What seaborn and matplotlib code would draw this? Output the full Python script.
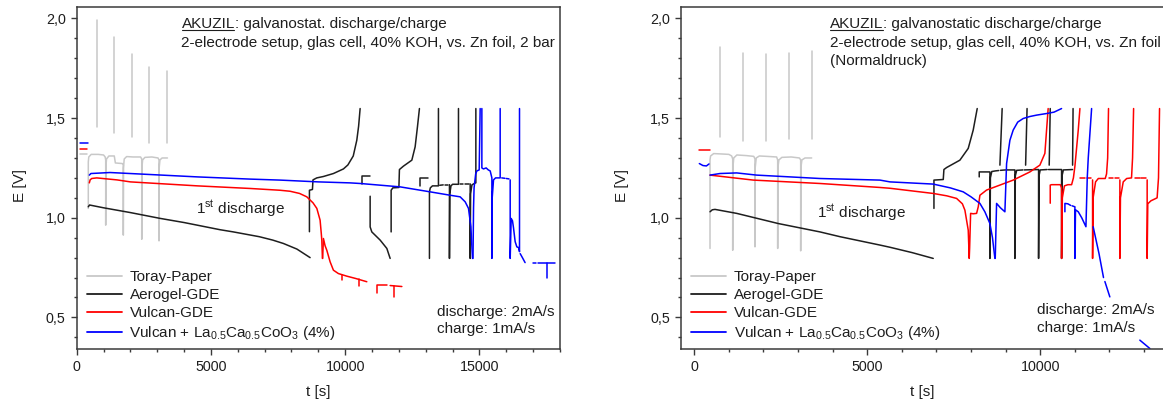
import matplotlib
matplotlib.use("Agg")
import matplotlib.pyplot as plt
import pandas as pd
import seaborn as sns
from matplotlib.lines import Line2D
from matplotlib.ticker import MultipleLocator, FuncFormatter

# ---------------- data (t [s], E [V]) ----------------
series_names = ["Toray-Paper", "Aerogel-GDE", "Vulcan-GDE",
                "Vulcan + La$_{0.5}$Ca$_{0.5}$CoO$_3$ (4%)"]
series_colors = ["#c8c8c8", "#1e1e1e", "#ff0000", "#0000ff"]

# ----- left panel (2 bar) -----
left_toray = [
    [(125, 1.318), (370, 1.318)],
    [(432, 1.047), (432, 1.28), (450, 1.305), (540, 1.318), (800, 1.318), (1000, 1.315), (1060, 1.305),
     (1080, 1.29), (1080, 0.963), (1085, 1.25), (1110, 1.295), (1200, 1.31), (1400, 1.31), (1440, 1.275),
     (1700, 1.272), (1736, 1.265), (1736, 0.913), (1742, 1.25), (1770, 1.295), (1860, 1.307), (2100, 1.305),
     (2380, 1.305), (2422, 1.295), (2422, 0.892), (2428, 1.25), (2455, 1.29), (2540, 1.303), (2800, 1.305),
     (3030, 1.30), (3066, 1.29), (3066, 0.884), (3072, 1.25), (3100, 1.29), (3180, 1.30), (3380, 1.30)],
    [(745, 1.456), (745, 1.991)],
    [(1390, 1.426), (1390, 1.905)],
    [(2049, 1.403), (2049, 1.821)],
    [(2705, 1.373), (2705, 1.757)],
    [(3376, 1.373), (3376, 1.737)],
]
left_aerogel = [
    [(430, 1.055), (480, 1.064), (1000, 1.05), (2000, 1.026), (3100, 0.997), (4000, 0.976), (5340, 0.94),
     (5835, 0.929), (6800, 0.905), (7300, 0.888), (7698, 0.871), (8200, 0.843), (8693, 0.80)],
    [(8668, 0.93), (8668, 1.138), (8780, 1.142), (8800, 1.19), (8941, 1.20), (9188, 1.207), (9562, 1.222),
     (9934, 1.245), (10100, 1.265), (10300, 1.31), (10432, 1.389), (10500, 1.46), (10556, 1.548)],
    [(10619, 1.168), (10619, 1.21), (10929, 1.21)],
    [(10929, 1.108), (10929, 0.954), (10991, 0.929), (11301, 0.888), (11551, 0.846), (11674, 0.796)],
    [(11711, 0.929), (11711, 1.138), (11774, 1.15), (12000, 1.152), (12020, 1.242), (12169, 1.259),
     (12482, 1.289), (12605, 1.356), (12691, 1.456), (12765, 1.548)],
    [(12790, 1.159), (12790, 1.197), (13100, 1.197)],
    [(13138, 0.796), (13138, 1.13), (13170, 1.15), (13250, 1.16), (13473, 1.16), (13473, 1.548)],
    [(13520, 1.163), (13650, 1.165)],
    [(13700, 1.166), (13830, 1.166)],
    [(13883, 1.166), (13883, 0.796), (13895, 1.12), (13940, 1.16), (14000, 1.168), (14219, 1.168),
     (14219, 1.548)],
    [(14270, 1.17), (14400, 1.17)],
    [(14450, 1.17), (14600, 1.17)],
    [(14655, 1.17), (14655, 0.796), (14670, 1.12), (14720, 1.165), (14850, 1.175), (14866, 1.175),
     (14866, 1.548)],
]
left_vulcan = [
    [(125, 1.344), (370, 1.344)],
    [(470, 1.175), (500, 1.19), (559, 1.197), (745, 1.20), (1500, 1.19), (2000, 1.18), (3000, 1.172),
     (4500, 1.16), (6457, 1.147), (7575, 1.138), (7948, 1.133), (8300, 1.122), (8570, 1.105), (8800, 1.075),
     (8943, 1.047), (9065, 0.988), (9110, 0.92), (9129, 0.888), (9152, 0.796)],
    [(9160, 0.796), (9189, 0.896), (9250, 0.86), (9315, 0.837), (9438, 0.779), (9561, 0.737), (9747, 0.72),
     (10060, 0.707), (10400, 0.695), (10805, 0.679)],
    [(9874, 0.712), (9874, 0.687)],
    [(10519, 0.695), (10519, 0.657)],
    [(11178, 0.620), (11178, 0.662), (11551, 0.662)],
    [(11674, 0.66), (12110, 0.655)],
    [(11834, 0.657), (11834, 0.603)],
]
left_lacaco = [
    [(125, 1.376), (432, 1.376)],
    [(470, 1.214), (530, 1.222), (1241, 1.227), (2731, 1.217), (4500, 1.205), (6457, 1.194), (7575, 1.189),
     (9000, 1.18), (10183, 1.175), (10556, 1.172), (12046, 1.155), (13164, 1.13), (13909, 1.113),
     (14281, 1.105), (14468, 1.08), (14592, 1.047), (14681, 0.955), (14741, 0.796)],
    [(14760, 0.796), (14780, 1.05), (14800, 1.15), (14860, 1.22), (14903, 1.235), (14990, 1.24),
     (15027, 1.548)],
    [(15090, 1.548), (15090, 1.25), (15150, 1.245), (15250, 1.25), (15330, 1.24), (15400, 1.235),
     (15463, 1.2), (15463, 0.796), (15475, 1.1), (15524, 1.19), (15600, 1.2), (15772, 1.2), (15772, 1.548)],
    [(15830, 1.2), (15950, 1.198)],
    [(16000, 1.197), (16100, 1.195)],
    [(16145, 1.19), (16145, 0.796), (16182, 0.9965), (16230, 0.985), (16268, 0.95), (16330, 0.88),
     (16393, 0.854), (16460, 0.85), (16492, 0.83), (16492, 1.548)],
    [(16517, 0.82), (16600, 0.80), (16700, 0.775)],
    [(16983, 0.773), (17121, 0.773)],
    [(17190, 0.773), (17810, 0.773)],
    [(17500, 0.773), (17500, 0.70)],
]

# ----- right panel (Normaldruck) -----
right_toray = [
    [(454, 0.846), (454, 1.29), (470, 1.31), (560, 1.322), (800, 1.32), (1000, 1.318), (1080, 1.31),
     (1110, 1.295), (1110, 0.837), (1115, 1.25), (1140, 1.30), (1230, 1.315), (1500, 1.312), (1720, 1.308),
     (1754, 1.295), (1754, 0.854), (1760, 1.25), (1790, 1.30), (1880, 1.31), (2100, 1.308), (2380, 1.305),
     (2410, 1.29), (2410, 0.846), (2416, 1.25), (2445, 1.29), (2530, 1.303), (2800, 1.305), (3040, 1.30),
     (3075, 1.29), (3075, 0.834), (3081, 1.25), (3110, 1.29), (3200, 1.30), (3393, 1.30)],
    [(741, 1.406), (741, 1.858)],
    [(1397, 1.386), (1397, 1.828)],
    [(2062, 1.386), (2062, 1.821)],
    [(2735, 1.393), (2735, 1.828)],
    [(3393, 1.393), (3393, 1.838)],
]
right_aerogel = [
    [(454, 1.03), (520, 1.04), (598, 1.042), (1225, 1.022), (2428, 0.971), (3633, 0.929), (4212, 0.905),
     (5367, 0.863), (5656, 0.852), (6300, 0.825), (6907, 0.796)],
    [(6928, 1.047), (6928, 1.189), (7197, 1.192), (7216, 1.242), (7294, 1.252), (7678, 1.289),
     (7919, 1.348), (8063, 1.44), (8179, 1.548)],
    [(8237, 1.205), (8237, 1.23), (8546, 1.23), (8546, 0.796), (8560, 1.20), (8600, 1.232), (8700, 1.235),
     (8800, 1.237)],
    [(8850, 1.238), (9000, 1.24)],
    [(9040, 1.24), (9268, 1.24), (9268, 0.796), (9280, 1.21), (9320, 1.238), (9500, 1.24)],
    [(9540, 1.24), (9953, 1.242), (9953, 0.796), (9965, 1.21), (10000, 1.24), (10200, 1.242)],
    [(10240, 1.242), (10618, 1.242), (10618, 0.796), (10630, 1.21), (10670, 1.24), (10936, 1.242)],
    [(8835, 1.264), (8900, 1.548)],
    [(9578, 1.264), (9620, 1.548)],
    [(10260, 1.264), (10290, 1.548)],
    [(10936, 1.264), (10950, 1.548)],
]
right_vulcan = [
    [(145, 1.339), (454, 1.339)],
    [(454, 1.214), (1706, 1.189), (3633, 1.172), (5367, 1.152), (5656, 1.148), (6907, 1.122), (7300, 1.11),
     (7583, 1.097), (7750, 1.07), (7823, 1.038), (7919, 0.938), (7948, 0.796), (7960, 0.85), (7988, 1.022),
     (8063, 1.02), (8161, 1.022), (8209, 1.055), (8257, 1.113), (8450, 1.139), (8835, 1.164), (9219, 1.189),
     (9701, 1.23), (9990, 1.264), (10135, 1.323), (10184, 1.44), (10230, 1.548)],
    [(10290, 1.073), (10290, 1.164), (10330, 1.166), (10580, 1.166), (10618, 1.15), (10618, 0.796),
     (10640, 1.1), (10700, 1.16), (10800, 1.166), (10908, 1.166), (10960, 1.2), (11004, 1.26), (11100, 1.44),
     (11148, 1.548)],
    [(11160, 1.197), (11300, 1.197)],
    [(11350, 1.197), (11480, 1.197)],
    [(11514, 1.19), (11514, 0.796), (11530, 1.1), (11600, 1.18), (11680, 1.197), (11880, 1.197),
     (11918, 1.22), (11950, 1.3), (11975, 1.548)],
    [(11990, 1.197), (12100, 1.197)],
    [(12150, 1.197), (12280, 1.197)],
    [(12303, 1.19), (12303, 0.796), (12320, 1.1), (12400, 1.18), (12500, 1.197), (12640, 1.2),
     (12670, 1.3), (12700, 1.548)],
    [(12740, 1.197), (12880, 1.197)],
    [(12920, 1.197), (13060, 1.197)],
    [(13092, 1.19), (13092, 0.796), (13110, 1.07), (13200, 1.085), (13380, 1.10), (13420, 1.2),
     (13450, 1.548)],
]
right_lacaco = [
    [(145, 1.272), (250, 1.262), (350, 1.26), (425, 1.27)],
    [(454, 1.214), (743, 1.222), (1225, 1.225), (1803, 1.214), (3633, 1.197), (5367, 1.189), (5656, 1.18),
     (6907, 1.169), (7400, 1.15), (7774, 1.13), (8000, 1.105), (8257, 1.072), (8400, 1.03), (8546, 0.971),
     (8620, 0.9), (8690, 0.796)],
    [(8700, 0.796), (8739, 1.072), (8850, 1.05), (8979, 1.03), (9028, 1.272), (9124, 1.389), (9219, 1.44),
     (9350, 1.48), (9508, 1.498), (9700, 1.508), (9895, 1.515), (10184, 1.523), (10400, 1.53),
     (10618, 1.548)],
    [(10714, 1.03), (10714, 1.072), (10800, 1.07), (10880, 1.062)],
    [(10920, 1.06), (11003, 1.055), (11003, 0.796), (11020, 1.04), (11100, 1.03), (11200, 1.0),
     (11322, 0.955), (11360, 1.2), (11389, 1.3), (11486, 1.548)],
    [(11531, 0.955), (11700, 0.82), (11830, 0.70)],
    [(11870, 0.68), (12013, 0.603)],
    [(12880, 0.386), (13170, 0.344)],
]

left_series = [left_toray, left_aerogel, left_vulcan, left_lacaco]
right_series = [right_toray, right_aerogel, right_vulcan, right_lacaco]


def to_frame(all_series):
    rows = []
    for name, segs in zip(series_names, all_series):
        for i, seg in enumerate(segs):
            for t, e in seg:
                rows.append({"series": name, "seg": f"{name}|{i}", "t": t, "E": e})
    return pd.DataFrame(rows)


# ---------------- style ----------------
sns.set_style("ticks")
plt.rcParams["font.family"] = ["Liberation Sans", "DejaVu Sans"]
plt.rcParams["mathtext.fontset"] = "custom"
plt.rcParams["mathtext.rm"] = "Liberation Sans"
plt.rcParams["mathtext.it"] = "Liberation Sans:italic"
plt.rcParams["mathtext.default"] = "regular"

TXT = "#1e1e1e"
SPINE = "#3a3a3a"

fig = plt.figure(figsize=(11.63, 4.03), dpi=100)
axL = fig.add_axes([0.06595, 0.13325, 0.41556, 0.84814])
axR = fig.add_axes([0.58555, 0.13325, 0.41445, 0.84814])

palette = dict(zip(series_names, series_colors))

for ax, data, xlim in [(axL, left_series, (0, 18000)), (axR, right_series, (-385, 13550))]:
    df = to_frame(data)
    sns.lineplot(data=df, x="t", y="E", hue="series", hue_order=series_names, units="seg",
                 estimator=None, sort=False, palette=palette, linewidth=1.1, legend=False, ax=ax)
    ax.set_xlim(*xlim)
    ax.set_ylim(0.34, 2.055)
    ax.xaxis.set_major_locator(MultipleLocator(5000))
    ax.xaxis.set_minor_locator(MultipleLocator(1000))
    ax.yaxis.set_major_locator(MultipleLocator(0.5))
    ax.yaxis.set_minor_locator(MultipleLocator(0.1))
    ax.yaxis.set_major_formatter(FuncFormatter(lambda v, p: f"{v:.1f}".replace(".", ",")))
    ax.xaxis.set_major_formatter(FuncFormatter(lambda v, p: f"{int(round(v))}"))
    ax.tick_params(which="major", direction="out", length=4.1, width=1.0, color=SPINE,
                   labelsize=10.3, labelcolor=TXT, pad=3.8)
    ax.tick_params(which="minor", direction="out", length=2.3, width=1.0, color=SPINE)
    for s in ax.spines.values():
        s.set_color(SPINE)
        s.set_linewidth(1.1)
    ax.set_xlabel("t [s]", fontsize=11, color=TXT)
    ax.set_ylabel("E [V]", fontsize=11, color=TXT)
    ax.xaxis.label.set_va("center")
    ax.yaxis.label.set_va("center")
    handles = [Line2D([], [], color=c, lw=1.3) for c in series_colors]
    ax.legend(handles, series_names, loc="upper left", bbox_to_anchor=(0.0207, 0.232),
              frameon=False, borderpad=0, borderaxespad=0, handlelength=2.3, handletextpad=0.5,
              labelspacing=0.26, fontsize=11, labelcolor=TXT)

axR.spines["right"].set_visible(False)
axL.xaxis.set_label_coords(0.5, -0.124)
axR.xaxis.set_label_coords(0.5, -0.124)
axL.yaxis.set_label_coords(-0.1165, 0.48)
axR.yaxis.set_label_coords(-0.1234, 0.48)

# ---------------- annotations ----------------
titles = [
    (axL, 0.2168, ": galvanostat. discharge/charge",
     ["2-electrode setup, glas cell, 40% KOH, vs. Zn foil, 2 bar"]),
    (axR, 0.309, ": galvanostatic discharge/charge",
     ["2-electrode setup, glas cell, 40% KOH, vs. Zn foil", "(Normaldruck)"]),
]
base_y = [0.939, 0.8853, 0.8327]
heads = []
for ax, fx, rest, lines in titles:
    t1 = ax.text(fx, base_y[0], "AKUZIL", transform=ax.transAxes, fontsize=11, color=TXT,
                 ha="left", va="baseline")
    ax.annotate(rest, xy=(1, 0), xycoords=t1, ha="left", va="bottom", fontsize=11, color=TXT)
    for i, ln in enumerate(lines):
        ax.text(fx, base_y[i + 1], ln, transform=ax.transAxes, fontsize=11, color=TXT,
                ha="left", va="baseline")
    heads.append((ax, fx, t1))

axL.text(0.2468, 0.398, "1$^{st}$ discharge", transform=axL.transAxes, fontsize=11, color=TXT,
         va="baseline")
axR.text(0.2828, 0.3862, "1$^{st}$ discharge", transform=axR.transAxes, fontsize=11, color=TXT,
         va="baseline")

for ax, fx, y1, y2 in [(axL, 0.7455, 0.0974, 0.0468), (axR, 0.738, 0.1033, 0.0497)]:
    ax.text(fx, y1, "discharge: 2mA/s", transform=ax.transAxes, fontsize=11, color=TXT, va="baseline")
    ax.text(fx, y2, "charge: 1mA/s", transform=ax.transAxes, fontsize=11, color=TXT, va="baseline")

# underline "AKUZIL"
fig.canvas.draw()
inv = fig.transFigure.inverted()
for ax, fx, t1 in heads:
    bb = t1.get_window_extent()
    base_px = ax.transAxes.transform((fx, base_y[0]))[1]
    y = base_px - 1.8
    (x0f, yf), (x1f, _) = inv.transform([(bb.x0 + 0.5, y), (bb.x1 - 0.5, y)])
    fig.add_artist(Line2D([x0f, x1f], [yf, yf], color=TXT, lw=0.8))

fig.savefig("out.png", dpi=100)
